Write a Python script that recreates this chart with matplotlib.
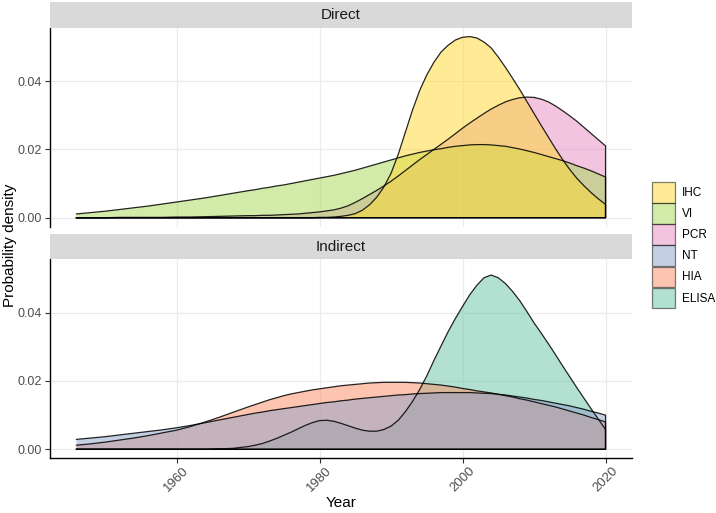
import numpy as np
import matplotlib.pyplot as plt
from matplotlib.patches import Patch

plt.rcParams['font.family'] = ['Liberation Sans', 'DejaVu Sans']

years = np.r_[np.arange(1946, 1971, 2), np.arange(1971, 2021, 1)]

# Direct panel
ihc = [0, 0, 0, 0, 0, 0, 0, 0, 0, 0, 0, 0, 0,
       0, 0, 0, 0, 0, 0, 0, 0, 0, .0001,
       .0001, .0002, .0004, .0007, .0012, .0022, .0038, .0060, .0090, .0130,
       .0185, .0250, .0315, .0372, .0418, .0455, .0485, .0505, .0520, .0528,
       .0530, .0526, .0514, .0497, .0470, .0440, .0408, .0375, .0340, .0305,
       .0270, .0236, .0202, .0170, .0141, .0115, .0093, .0073, .0055, .0039]
vi = [.0011, .0015, .0019, .0024, .0029, .0034, .0040, .0046, .0052, .0058, .0065, .0072, .0079,
      .0082, .0086, .0089, .0093, .0096, .0100, .0104, .0108, .0112, .0116,
      .0120, .0124, .0129, .0134, .0139, .0145, .0151, .0157, .0163, .0169,
      .0175, .0181, .0186, .0191, .0195, .0199, .0202, .0206, .0209, .0211,
      .0213, .0214, .0214, .0213, .0211, .0209, .0205, .0201, .0196, .0191,
      .0185, .0179, .0173, .0167, .0160, .0152, .0145, .0137, .0128, .0119]
pcr = [0, 0, 0, .0001, .0001, .0001, .0001, .0002, .0002, .0003, .0004, .0005, .0006,
       .0006, .0007, .0007, .0008, .0009, .0010, .0011, .0013, .0015, .0017,
       .0020, .0023, .0028, .0035, .0045, .0056, .0068, .0080, .0093, .0107,
       .0122, .0138, .0154, .0170, .0185, .0200, .0215, .0230, .0246, .0262,
       .0277, .0291, .0305, .0318, .0329, .0339, .0346, .0351, .0353, .0352,
       .0347, .0339, .0327, .0313, .0298, .0282, .0264, .0246, .0228, .0210]

# Indirect panel
nt = [.0029, .0033, .0037, .0042, .0047, .0052, .0057, .0063, .0070, .0078, .0086, .0094, .0102,
      .0106, .0109, .0113, .0116, .0119, .0122, .0125, .0128, .0131, .0134,
      .0137, .0139, .0142, .0144, .0147, .0149, .0151, .0153, .0155, .0157,
      .0159, .0160, .0162, .0163, .0164, .0165, .0166, .0166, .0166, .0166,
      .0166, .0165, .0164, .0163, .0161, .0159, .0156, .0153, .0150, .0146,
      .0143, .0139, .0135, .0131, .0127, .0122, .0117, .0111, .0106, .0100]
hia = [.0012, .0016, .0021, .0027, .0033, .0040, .0048, .0056, .0067, .0080, .0094, .0109, .0124,
       .0131, .0138, .0145, .0151, .0157, .0162, .0166, .0170, .0174, .0177,
       .0180, .0183, .0186, .0188, .0190, .0192, .0194, .0195, .0196, .0196,
       .0196, .0196, .0195, .0194, .0192, .0190, .0188, .0185, .0182, .0178,
       .0175, .0171, .0168, .0165, .0161, .0157, .0153, .0148, .0144, .0139,
       .0134, .0129, .0124, .0118, .0112, .0106, .0100, .0093, .0087, .0080]
elisa = [0, 0, 0, 0, 0, 0, 0, 0, 0, 0, .0001, .0003, .0008,
         .0012, .0017, .0024, .0032, .0041, .0050, .0060, .0070, .0078, .0084,
         .0085, .0082, .0076, .0069, .0062, .0056, .0053, .0053, .0058, .0068,
         .0085, .0110, .0140, .0175, .0215, .0260, .0303, .0345, .0383, .0418,
         .0452, .0480, .0502, .0510, .0502, .0485, .0462, .0435, .0403, .0370,
         .0340, .0309, .0277, .0244, .0212, .0180, .0149, .0118, .0088, .0058]

methods = ["IHC", "VI", "PCR", "NT", "HIA", "ELISA"]
colors = {"IHC": "#FFD92F", "VI": "#A6D854", "PCR": "#E78AC3",
          "NT": "#8DA0CB", "HIA": "#FC8D62", "ELISA": "#66C2A5"}
panels = {
    "Direct": {"IHC": ihc, "VI": vi, "PCR": pcr},
    "Indirect": {"NT": nt, "HIA": hia, "ELISA": elisa},
}

W, H = 716, 513
fig = plt.figure(figsize=(W / 100, H / 100), dpi=100)

# panel boxes in pixels: (top of strip, top of panel, bottom of panel)
boxes = {"Direct": (2, 27.7, 226.7), "Indirect": (234, 259.3, 458.3)}
left_px, right_px = 50, 632

for name, series in panels.items():
    strip_top, top, bottom = boxes[name]
    ax = fig.add_axes([left_px / W, 1 - bottom / H, (right_px - left_px) / W, (bottom - top) / H])
    sax = fig.add_axes([left_px / W, 1 - top / H, (right_px - left_px) / W, (top - strip_top) / H])
    sax.set_facecolor("#D9D9D9")
    sax.set_xticks([])
    sax.set_yticks([])
    for s in sax.spines.values():
        s.set_visible(False)
    sax.text(0.5, 0.5, name, ha="center", va="center", fontsize=11, color="#1A1A1A",
             transform=sax.transAxes)

    # reversed order so that IHC / NT lines sit on top
    for m in reversed(list(series.keys())):
        vals = np.array(series[m])
        ax.fill_between(years, 0, vals, facecolor=colors[m], alpha=0.5,
                        edgecolor="none", zorder=2)
        ax.plot(np.r_[years, years[::-1]], np.r_[vals, np.zeros(len(years))],
                color="black", lw=0.9, alpha=0.85, zorder=3)

    ax.set_xlim(1942.3, 2023.7)
    ax.set_ylim(-0.00263, 0.0556)
    ax.set_xticks([1960, 1980, 2000, 2020])
    ax.set_yticks([0.00, 0.02, 0.04])
    ax.set_yticklabels(["0.00", "0.02", "0.04"])
    ax.grid(True, color="#EBEBEB", lw=0.9, zorder=0)
    ax.set_axisbelow(True)
    for s in ["top", "right"]:
        ax.spines[s].set_visible(False)
    ax.spines["left"].set_linewidth(1.0)
    ax.tick_params(axis="y", colors="#333333", labelcolor="#4D4D4D", labelsize=9, length=3.5, pad=2)
    if name == "Direct":
        ax.spines["bottom"].set_visible(False)
        ax.tick_params(axis="x", length=0, labelbottom=False)
    else:
        ax.spines["bottom"].set_linewidth(1.0)
        ax.tick_params(axis="x", colors="#333333", labelcolor="#4D4D4D", labelsize=9.5, length=3.5, pad=1)
        for lab in ax.get_xticklabels():
            lab.set_rotation(45)
            lab.set_ha("center")
            lab.set_va("top")

fig.text(341 / W, 1 - 503 / H, "Year", ha="center", va="center", fontsize=11)
fig.text(10 / W, 1 - 245 / H, "Probability density", rotation=90, ha="center",
         va="center", fontsize=11)

handles = [Patch(facecolor=colors[m], alpha=0.5, edgecolor="black", lw=0.9) for m in methods]
fig.legend(handles, methods, loc="upper left", bbox_to_anchor=(652 / W, 1 - 182 / H),
           frameon=False, fontsize=8.5, handlelength=1.95, handleheight=2.3,
           labelspacing=0.05, handletextpad=0.6, borderpad=0, borderaxespad=0)

plt.savefig("out.png", dpi=100)
